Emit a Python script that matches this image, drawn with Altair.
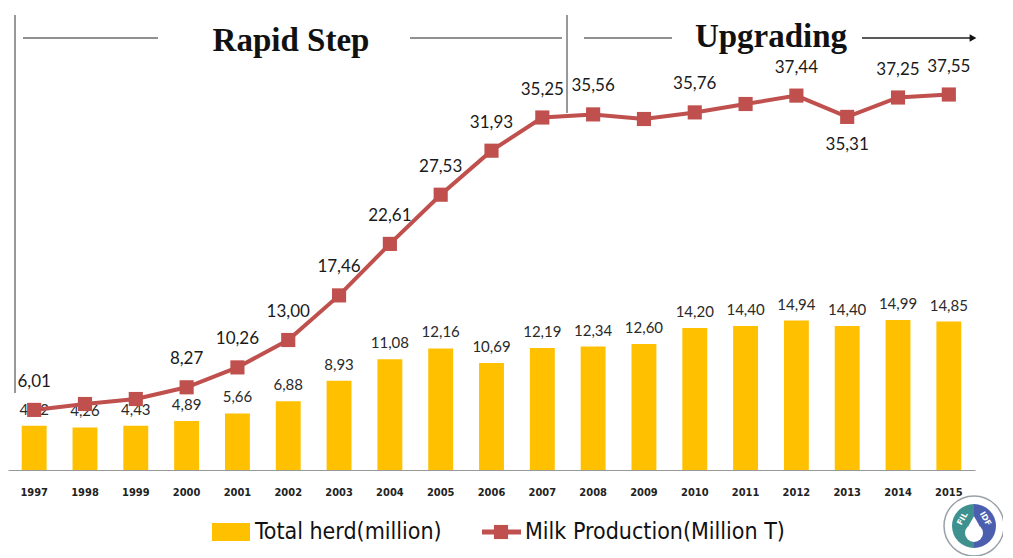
import altair as alt
import pandas as pd
import math

years = [str(y) for y in range(1997, 2016)]
herd = [4.42, 4.26, 4.43, 4.89, 5.66, 6.88, 8.93, 11.08, 12.16, 10.69,
        12.19, 12.34, 12.60, 14.20, 14.40, 14.94, 14.40, 14.99, 14.85]
milk = [6.01, 6.6, 7.1, 8.27, 10.26, 13.00, 17.46, 22.61, 27.53, 31.93,
        35.25, 35.56, 35.1, 35.76, 36.6, 37.44, 35.31, 37.25, 37.55]
milk_labeled = [True, False, False, True, True, True, True, True, True, True,
                True, True, False, True, False, True, True, True, True]

df = pd.DataFrame({"year": years, "herd": herd, "milk": milk, "lab": milk_labeled})

BAR = "#FFC000"
RED = "#C0504D"
W, H = 967, 454
YMAX = 45.4

x = alt.X("year:N", title=None,
          scale=alt.Scale(paddingInner=0.51, paddingOuter=0.27),
          axis=alt.Axis(labelAngle=0, ticks=False, domainColor="#999999",
                        labelFont="DejaVu Sans Condensed", labelFontWeight="bold",
                        labelFontSize=11, labelColor="#222222", labelPadding=16))
yscale = alt.Scale(domain=[0, YMAX], nice=False, zero=True)

base = alt.Chart(df)

bars = base.mark_bar(color=BAR).encode(
    x=x, y=alt.Y("herd:Q", scale=yscale, axis=None))

herd_text = base.transform_calculate(
    t="replace(format(datum.herd, '.2f'), '.', ',')"
).mark_text(font="Lato", fontSize=15, color="#2a2a2a", dy=-16).encode(
    x=x, y=alt.Y("herd:Q", scale=yscale, axis=None), text="t:N")

line = base.mark_line(color=RED, strokeWidth=4).encode(
    x=x, y=alt.Y("milk:Q", scale=yscale, axis=None))
pts = base.mark_square(color=RED, size=200, opacity=1).encode(
    x=x, y=alt.Y("milk:Q", scale=yscale, axis=None))

milk_text = base.transform_filter("datum.lab && datum.year != '2013'").transform_calculate(
    t="replace(format(datum.milk, '.2f'), '.', ',')"
).mark_text(font="Lato", fontSize=17, color="#1a1a1a", dy=-28).encode(
    x=x, y=alt.Y("milk:Q", scale=yscale, axis=None), text="t:N")
milk_text_below = base.transform_filter("datum.year == '2013'").transform_calculate(
    t="replace(format(datum.milk, '.2f'), '.', ',')"
).mark_text(font="Lato", fontSize=17, color="#1a1a1a", dy=28).encode(
    x=x, y=alt.Y("milk:Q", scale=yscale, axis=None), text="t:N")

one = alt.Data(values=[{"a": 1}])

def rule(x1, x2, y1, y2, w=1, c="#222222"):
    return alt.Chart(one).mark_rule(color=c, strokeWidth=w).encode(
        x=alt.value(x1), x2=alt.value(x2), y=alt.value(y1), y2=alt.value(y2))

def text(s, xv, yv, **kw):
    return alt.Chart(one).mark_text(**kw).encode(
        x=alt.value(xv), y=alt.value(yv), text=alt.value(s))

LX, LY = 966, 510
logo = [
    alt.Chart(one).mark_arc(radius=30, theta=0, theta2=2 * math.pi, color="white",
                            stroke="#9aa0a8", strokeWidth=1.5).encode(
        x=alt.value(LX), y=alt.value(LY)),
    alt.Chart(one).mark_arc(radius=22, theta=math.pi, theta2=2 * math.pi, color="#3f9190").encode(
        x=alt.value(LX), y=alt.value(LY)),
    alt.Chart(one).mark_arc(radius=22, theta=0, theta2=math.pi, color="#4b5fae").encode(
        x=alt.value(LX), y=alt.value(LY)),
    alt.Chart(one).mark_arc(radius=9, theta=0, theta2=2 * math.pi, color="white").encode(
        x=alt.value(LX), y=alt.value(LY + 7)),
    alt.Chart(one).mark_point(shape="triangle-up", filled=True, color="white", size=120,
                              opacity=1).encode(x=alt.value(LX), y=alt.value(LY - 5)),
    text("FIL", LX - 11, LY - 7, font="DejaVu Sans", fontWeight="bold", fontSize=8,
         color="white", angle=300, align="center", baseline="middle"),
    text("IDF", LX + 11, LY - 7, font="DejaVu Sans", fontWeight="bold", fontSize=8,
         color="white", angle=60, align="center", baseline="middle"),
]

annot = [
    rule(7, 7, -1, 377, 1, "#333333"),
    rule(559, 559, -1, 97, 1, "#333333"),
    rule(15, 150, 22, 22),
    rule(402, 554, 22, 22),
    rule(576, 664, 22, 22),
    rule(854, 962, 22, 22, 1.5),
    alt.Chart(one).mark_point(shape="triangle-right", filled=True, color="#111111",
                              size=60, opacity=1).encode(x=alt.value(965), y=alt.value(22)),
    text("Rapid Step", 283, 25, font="Liberation Serif", fontWeight="bold",
         fontSize=33, color="#111111", align="center", baseline="middle"),
    text("Upgrading", 763, 21, font="Liberation Serif", fontWeight="bold",
         fontSize=33, color="#111111", align="center", baseline="middle"),
    # legend
    alt.Chart(one).mark_rect(color=BAR).encode(
        x=alt.value(204), x2=alt.value(242), y=alt.value(507), y2=alt.value(525)),
    text("Total herd(million)", 247, 516, font="DejaVu Sans Condensed", fontSize=23,
         color="#111111", align="left", baseline="middle"),
    rule(474, 513, 516, 516, 5, RED),
    alt.Chart(one).mark_square(color=RED, size=200, opacity=1).encode(
        x=alt.value(493), y=alt.value(516)),
    text("Milk Production(Million T)", 517, 516, font="DejaVu Sans Condensed", fontSize=23,
         color="#111111", align="left", baseline="middle"),
]

chart = alt.layer(bars, herd_text, line, pts, milk_text, milk_text_below,
                  *annot, *logo).properties(
    width=W, height=H,
    autosize=alt.AutoSizeParams(type="none"),
    padding={"left": 0, "top": 8, "right": 28, "bottom": 86},
).configure(background="white").configure_view(stroke=None, strokeWidth=0)

chart.save("out.html", embed_options={"renderer": "svg", "actions": False})
